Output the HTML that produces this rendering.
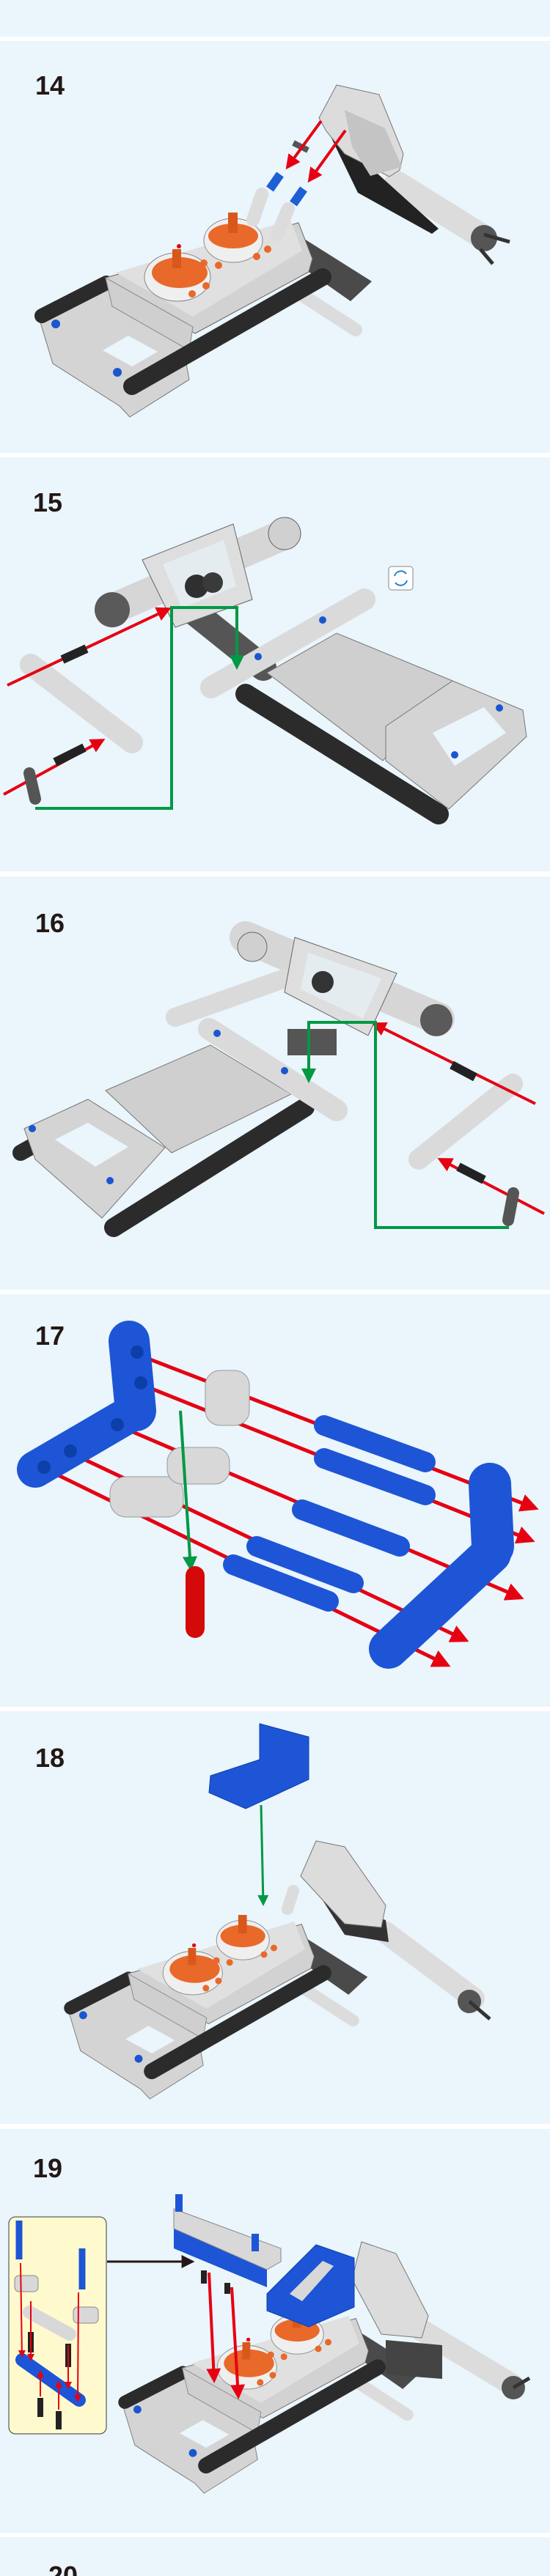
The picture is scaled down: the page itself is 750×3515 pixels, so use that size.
<!DOCTYPE html>
<html><head><meta charset="utf-8"><style>
html,body{margin:0;padding:0;background:#eaf5fc;}
svg{display:block}
</style></head><body>
<svg width="750" height="3515" viewBox="0 0 750 3515" xmlns="http://www.w3.org/2000/svg">
<defs>
<marker id="ar" viewBox="0 0 10 10" refX="8" refY="5" markerWidth="5" markerHeight="5" orient="auto"><path d="M0,0 L10,5 L0,10 z" fill="#e60012"/></marker>
<marker id="ag" viewBox="0 0 10 10" refX="8" refY="5" markerWidth="5" markerHeight="5" orient="auto"><path d="M0,0 L10,5 L0,10 z" fill="#009944"/></marker>
<marker id="ak" viewBox="0 0 10 10" refX="8" refY="5" markerWidth="6" markerHeight="6" orient="auto"><path d="M0,0 L10,5 L0,10 z" fill="#231815"/></marker>
<g id="base">
  <polygon points="53,433 72,496 163,554 177,569 258,518 249,469 144,388" fill="#d4d4d4" stroke="#777" stroke-width="1"/>
  <polygon points="140,478 180,500 215,480 175,458" fill="#eaf5fc"/>
  <line x1="57" y1="431" x2="145" y2="386" stroke="#2b2b2b" stroke-width="20" stroke-linecap="round"/>
  <polygon points="407,321 507,384 478,411 421,371" fill="#4a4a4a"/>
  <line x1="411" y1="402" x2="485" y2="450" stroke="#dcdcdc" stroke-width="18" stroke-linecap="round"/>
  <polygon points="144,379 407,304 426,353 421,371 266,455 158,393" fill="#d2d2d2" stroke="#666" stroke-width="1"/>
  <polygon points="158,372 396,300 412,342 263,432" fill="#e0e0e0"/>
  <polygon points="144,379 263,446 258,478 153,418" fill="#cfcfcf" stroke="#888" stroke-width="1"/>
  <line x1="180" y1="527" x2="440" y2="378" stroke="#2b2b2b" stroke-width="24" stroke-linecap="round"/>
  <ellipse cx="242" cy="378" rx="45" ry="33" fill="#efefef" stroke="#888"/>
  <ellipse cx="245" cy="372" rx="38" ry="21" fill="#e8692a"/>
  <ellipse cx="318" cy="328" rx="40" ry="30" fill="#efefef" stroke="#888"/>
  <ellipse cx="318" cy="322" rx="34" ry="17" fill="#e8692a"/>
  <rect x="235" y="340" width="12" height="26" fill="#d9571a"/>
  <rect x="311" y="290" width="13" height="28" fill="#d9571a"/>
  <g fill="#e8692a"><circle cx="262" cy="401" r="5"/><circle cx="281" cy="390" r="5"/><circle cx="278" cy="359" r="5"/><circle cx="298" cy="362" r="5"/><circle cx="350" cy="350" r="5"/><circle cx="365" cy="340" r="5"/></g>
  <circle cx="244" cy="336" r="3" fill="#e60012"/>
  <circle cx="76" cy="442" r="6" fill="#1a56d0"/><circle cx="160" cy="508" r="6" fill="#1a56d0"/>
</g>
</defs>

<rect x="0" y="50" width="750" height="6" fill="#fff"/>
<rect x="0" y="618" width="750" height="6" fill="#fff"/>
<rect x="0" y="1189" width="750" height="7" fill="#fff"/>
<rect x="0" y="1760" width="750" height="6" fill="#fff"/>
<rect x="0" y="2329" width="750" height="6" fill="#fff"/>
<rect x="0" y="2898" width="750" height="7" fill="#fff"/>
<rect x="0" y="3456" width="750" height="6" fill="#fff"/>

<g font-family="Liberation Sans, sans-serif" font-weight="bold" font-size="36" fill="#231815">
<text x="48" y="129">14</text>
<text x="45" y="698">15</text>
<text x="48" y="1272">16</text>
<text x="48" y="1835">17</text>
<text x="48" y="2411">18</text>
<text x="45" y="2971">19</text>
<text x="66" y="3527">20</text>
</g>

<!-- STEP 14 -->
<use href="#base"/>
<line x1="345" y1="300" x2="357" y2="265" stroke="#dcdcdc" stroke-width="18" stroke-linecap="round"/>
<line x1="378" y1="320" x2="393" y2="285" stroke="#dcdcdc" stroke-width="18" stroke-linecap="round"/>
<line x1="368" y1="258" x2="382" y2="238" stroke="#1f5fd6" stroke-width="12"/>
<line x1="400" y1="278" x2="414" y2="258" stroke="#1f5fd6" stroke-width="12"/>
<line x1="541" y1="250" x2="655" y2="321" stroke="#dcdcdc" stroke-width="34" stroke-linecap="round"/>
<polygon points="445,174 598,312 589,319 488,263" fill="#222"/>
<polygon points="459,116 517,129 550,210 545,232 531,241 470,210 445,179 435,161" fill="#dcdcdc" stroke="#777"/>
<polygon points="470,150 525,175 548,228 505,240 480,200" fill="#c4c4c4"/>
<circle cx="660" cy="325" r="18" fill="#555"/>
<line x1="660" y1="320" x2="695" y2="330" stroke="#333" stroke-width="5"/>
<line x1="655" y1="340" x2="672" y2="360" stroke="#333" stroke-width="5"/>
<line x1="400" y1="195" x2="420" y2="205" stroke="#555" stroke-width="8"/>
<line x1="438" y1="165" x2="392" y2="228" stroke="#e60012" stroke-width="4" marker-end="url(#ar)"/>
<line x1="471" y1="178" x2="422" y2="246" stroke="#e60012" stroke-width="4" marker-end="url(#ar)"/>

<!-- STEP 15 -->
<line x1="153" y1="831" x2="388" y2="729" stroke="#d6d6d6" stroke-width="42" stroke-linecap="round"/>
<circle cx="153" cy="832" r="24" fill="#5a5a5a"/>
<circle cx="388" cy="728" r="22" fill="#d0d0d0" stroke="#666"/>
<line x1="268" y1="838" x2="359" y2="911" stroke="#555" stroke-width="36" stroke-linecap="round"/>
<polygon points="194,764 318,715 344,818 239,856" fill="#dedede" stroke="#666"/>
<polygon points="222,770 305,737 322,800 248,830" fill="#eaf5fc" opacity="0.6"/>
<circle cx="268" cy="800" r="16" fill="#2f2f2f"/>
<circle cx="290" cy="795" r="14" fill="#3a3a3a"/>
<polygon points="364,918 459,864 617,929 522,1038" fill="#cfcfcf" stroke="#777"/>
<line x1="335" y1="947" x2="598" y2="1111" stroke="#2b2b2b" stroke-width="28" stroke-linecap="round"/>
<polygon points="526,991 617,929 713,969 718,1005 612,1104 526,1038" fill="#d4d4d4" stroke="#777"/>
<polygon points="590,1000 660,965 690,1000 620,1045" fill="#eaf5fc"/>
<line x1="288" y1="938" x2="497" y2="818" stroke="#dadada" stroke-width="30" stroke-linecap="round"/>
<circle cx="352" cy="896" r="5" fill="#1a56d0"/><circle cx="440" cy="846" r="5" fill="#1a56d0"/>
<circle cx="681" cy="966" r="5" fill="#1a56d0"/><circle cx="620" cy="1030" r="5" fill="#1a56d0"/>
<rect x="530" y="773" width="33" height="32" rx="4" fill="#fff" stroke="#888"/>
<path d="M538,786 a9,9 0 0 1 16,-3" fill="none" stroke="#1a7fd0" stroke-width="2"/>
<path d="M555,792 a9,9 0 0 1 -16,3" fill="none" stroke="#1a7fd0" stroke-width="2"/>
<line x1="42" y1="907" x2="180" y2="1013" stroke="#dadada" stroke-width="30" stroke-linecap="round"/>
<line x1="10" y1="935" x2="230" y2="831" stroke="#e60012" stroke-width="4" marker-end="url(#ar)"/>
<line x1="5" y1="1084" x2="140" y2="1010" stroke="#e60012" stroke-width="4" marker-end="url(#ar)"/>
<line x1="85" y1="900" x2="118" y2="885" stroke="#222" stroke-width="12"/>
<line x1="75" y1="1040" x2="115" y2="1020" stroke="#222" stroke-width="12"/>
<line x1="40" y1="1055" x2="48" y2="1090" stroke="#555" stroke-width="16" stroke-linecap="round"/>
<polyline points="48,1103 234,1103 234,829 323,829 323,910" fill="none" stroke="#009944" stroke-width="4" marker-end="url(#ag)"/>

<!-- STEP 16 -->
<polygon points="144,1488 287,1426 397,1493 234,1573" fill="#cfcfcf" stroke="#777"/>
<line x1="28" y1="1573" x2="60" y2="1555" stroke="#2b2b2b" stroke-width="22" stroke-linecap="round"/>
<line x1="155" y1="1675" x2="416" y2="1511" stroke="#2b2b2b" stroke-width="26" stroke-linecap="round"/>
<polygon points="33,1540 120,1500 225,1566 139,1662 48,1582" fill="#d4d4d4" stroke="#777"/>
<polygon points="75,1555 120,1532 175,1565 130,1592" fill="#eaf5fc"/>
<circle cx="44" cy="1540" r="5" fill="#1a56d0"/><circle cx="150" cy="1611" r="5" fill="#1a56d0"/>
<line x1="335" y1="1279" x2="598" y2="1390" stroke="#d6d6d6" stroke-width="44" stroke-linecap="round"/>
<circle cx="344" cy="1292" r="20" fill="#d0d0d0" stroke="#666"/>
<circle cx="595" cy="1392" r="22" fill="#5a5a5a"/>
<polygon points="392,1404 459,1404 459,1440 392,1440" fill="#555"/>
<line x1="239" y1="1388" x2="397" y2="1332" stroke="#dadada" stroke-width="26" stroke-linecap="round"/>
<polygon points="402,1279 541,1328 502,1413 388,1354" fill="#dedede" stroke="#666"/>
<polygon points="420,1300 520,1335 495,1390 410,1350" fill="#eaf5fc" opacity="0.6"/>
<circle cx="440" cy="1340" r="15" fill="#333"/>
<line x1="285" y1="1404" x2="459" y2="1515" stroke="#dadada" stroke-width="30" stroke-linecap="round"/>
<circle cx="296" cy="1410" r="5" fill="#1a56d0"/><circle cx="388" cy="1461" r="5" fill="#1a56d0"/>
<line x1="571" y1="1582" x2="699" y2="1479" stroke="#dadada" stroke-width="28" stroke-linecap="round"/>
<line x1="730" y1="1506" x2="510" y2="1397" stroke="#e60012" stroke-width="4" marker-end="url(#ar)"/>
<line x1="742" y1="1656" x2="600" y2="1582" stroke="#e60012" stroke-width="4" marker-end="url(#ar)"/>
<line x1="616" y1="1453" x2="648" y2="1470" stroke="#222" stroke-width="12"/>
<line x1="625" y1="1592" x2="660" y2="1610" stroke="#222" stroke-width="12"/>
<line x1="700" y1="1628" x2="693" y2="1665" stroke="#555" stroke-width="16" stroke-linecap="round"/>
<polyline points="694,1675 512,1675 512,1395 421,1395 421,1474" fill="none" stroke="#009944" stroke-width="4" marker-end="url(#ag)"/>

<!-- STEP 17 -->
<g stroke="#e60012" stroke-width="5" marker-end="url(#ar)">
<line x1="179" y1="1845" x2="730" y2="2058"/>
<line x1="187" y1="1887" x2="725" y2="2102"/>
<line x1="158" y1="1944" x2="710" y2="2180"/>
<line x1="91" y1="1980" x2="635" y2="2238"/>
<line x1="57" y1="2002" x2="610" y2="2272"/>
</g>
<line x1="176" y1="1830" x2="185" y2="1925" stroke="#1d55d6" stroke-width="56" stroke-linecap="round"/>
<line x1="48" y1="2005" x2="185" y2="1925" stroke="#1d55d6" stroke-width="50" stroke-linecap="round"/>
<line x1="668" y1="2025" x2="672" y2="2110" stroke="#1d55d6" stroke-width="58" stroke-linecap="round"/>
<line x1="530" y1="2250" x2="670" y2="2120" stroke="#1d55d6" stroke-width="54" stroke-linecap="round"/>
<g fill="#0d3fa8"><circle cx="187" cy="1845" r="9"/><circle cx="192" cy="1887" r="9"/><circle cx="160" cy="1944" r="9"/><circle cx="96" cy="1980" r="9"/><circle cx="60" cy="2002" r="9"/></g>
<rect x="280" y="1870" width="60" height="75" rx="20" fill="#d8d8d8" stroke="#999"/>
<rect x="150" y="2015" width="100" height="55" rx="22" fill="#d8d8d8" stroke="#999"/>
<rect x="228" y="1975" width="85" height="50" rx="20" fill="#d8d8d8" stroke="#999"/>
<g stroke="#1d55d6" stroke-width="28" stroke-linecap="round">
<line x1="442" y1="1945" x2="580" y2="1995"/>
<line x1="442" y1="1990" x2="580" y2="2040"/>
<line x1="412" y1="2060" x2="545" y2="2110"/>
<line x1="350" y1="2110" x2="482" y2="2160"/>
<line x1="318" y1="2135" x2="448" y2="2185"/>
</g>
<line x1="246" y1="1925" x2="260" y2="2140" stroke="#009944" stroke-width="4" marker-end="url(#ag)"/>
<line x1="266" y1="2150" x2="266" y2="2222" stroke="#d40a0a" stroke-width="26" stroke-linecap="round"/>

<!-- STEP 18 -->
<use href="#base" transform="translate(45,2352) scale(0.9)"/>
<line x1="392" y1="2605" x2="400" y2="2580" stroke="#dcdcdc" stroke-width="16" stroke-linecap="round"/>
<line x1="526" y1="2637" x2="646" y2="2727" stroke="#dcdcdc" stroke-width="30" stroke-linecap="round"/>
<polygon points="440,2593 526,2620 530,2650 470,2640" fill="#333"/>
<polygon points="431,2512 470,2520 526,2600 520,2630 470,2625 410,2560" fill="#dcdcdc" stroke="#777"/>
<circle cx="640" cy="2731" r="16" fill="#555"/>
<line x1="640" y1="2731" x2="668" y2="2755" stroke="#333" stroke-width="5"/>
<polygon points="354,2352 421,2370 421,2428 335,2468 285,2446 287,2423 354,2401" fill="#1d55d6" stroke="#0d3fa8"/>
<line x1="356" y1="2463" x2="359" y2="2598" stroke="#009944" stroke-width="3" marker-end="url(#ag)"/>

<!-- STEP 19 -->
<use href="#base" transform="translate(119,2890) scale(0.9)"/>
<line x1="574" y1="3179" x2="700" y2="3255" stroke="#dcdcdc" stroke-width="30" stroke-linecap="round"/>
<polygon points="526,3193 603,3200 603,3246 526,3240" fill="#444"/>
<polygon points="493,3059 540,3075 584,3160 575,3190 520,3185 480,3110" fill="#dcdcdc" stroke="#777"/>
<circle cx="700" cy="3258" r="16" fill="#555"/>
<line x1="700" y1="3258" x2="722" y2="3245" stroke="#333" stroke-width="5"/>
<polygon points="364,3130 431,3063 483,3081 483,3148 421,3175 364,3153" fill="#1d55d6" stroke="#0d3fa8"/>
<polygon points="395,3130 440,3085 455,3092 412,3140" fill="#d8d8d8"/>
<polygon points="237,3041 364,3097 364,3121 237,3068" fill="#1d55d6"/>
<polygon points="237,3014 383,3068 383,3086 364,3097 237,3041" fill="#d8d8d8" stroke="#888"/>
<line x1="244" y1="2994" x2="244" y2="3018" stroke="#1d55d6" stroke-width="10"/>
<line x1="348" y1="3048" x2="348" y2="3072" stroke="#1d55d6" stroke-width="10"/>
<line x1="278" y1="3098" x2="278" y2="3116" stroke="#222" stroke-width="8"/>
<line x1="310" y1="3115" x2="310" y2="3130" stroke="#222" stroke-width="8"/>
<line x1="285" y1="3101" x2="292" y2="3248" stroke="#e60012" stroke-width="4" marker-end="url(#ar)"/>
<line x1="316" y1="3121" x2="325" y2="3270" stroke="#e60012" stroke-width="4" marker-end="url(#ar)"/>
<rect x="12" y="3025" width="133" height="296" rx="9" fill="#fffacd" stroke="#3a3a3a" stroke-width="1"/>
<line x1="146" y1="3086" x2="262" y2="3086" stroke="#231815" stroke-width="3" marker-end="url(#ak)"/>
<line x1="26" y1="3030" x2="26" y2="3083" stroke="#1d55d6" stroke-width="9"/>
<line x1="112" y1="3068" x2="112" y2="3124" stroke="#1d55d6" stroke-width="9"/>
<rect x="20" y="3105" width="32" height="22" rx="6" fill="#d8d8d8" stroke="#888"/>
<rect x="100" y="3148" width="34" height="22" rx="6" fill="#d8d8d8" stroke="#888"/>
<line x1="40" y1="3155" x2="95" y2="3185" stroke="#d8d8d8" stroke-width="18" stroke-linecap="round"/>
<line x1="30" y1="3220" x2="108" y2="3275" stroke="#1d55d6" stroke-width="18" stroke-linecap="round"/>
<g stroke="#222" stroke-width="8"><line x1="42" y1="3182" x2="42" y2="3210"/><line x1="93" y1="3198" x2="93" y2="3230"/><line x1="55" y1="3272" x2="55" y2="3298"/><line x1="80" y1="3290" x2="80" y2="3315"/></g>
<g stroke="#e60012" stroke-width="2">
<line x1="28" y1="3088" x2="30" y2="3215" marker-end="url(#ar)"/>
<line x1="42" y1="3140" x2="42" y2="3220" marker-end="url(#ar)"/>
<line x1="107" y1="3128" x2="106" y2="3276" marker-end="url(#ar)"/>
<line x1="93" y1="3200" x2="93" y2="3258" marker-end="url(#ar)"/>
<line x1="55" y1="3270" x2="55" y2="3236" marker-end="url(#ar)"/>
<line x1="80" y1="3288" x2="80" y2="3250" marker-end="url(#ar)"/>
</g>
</svg>
</body></html>
